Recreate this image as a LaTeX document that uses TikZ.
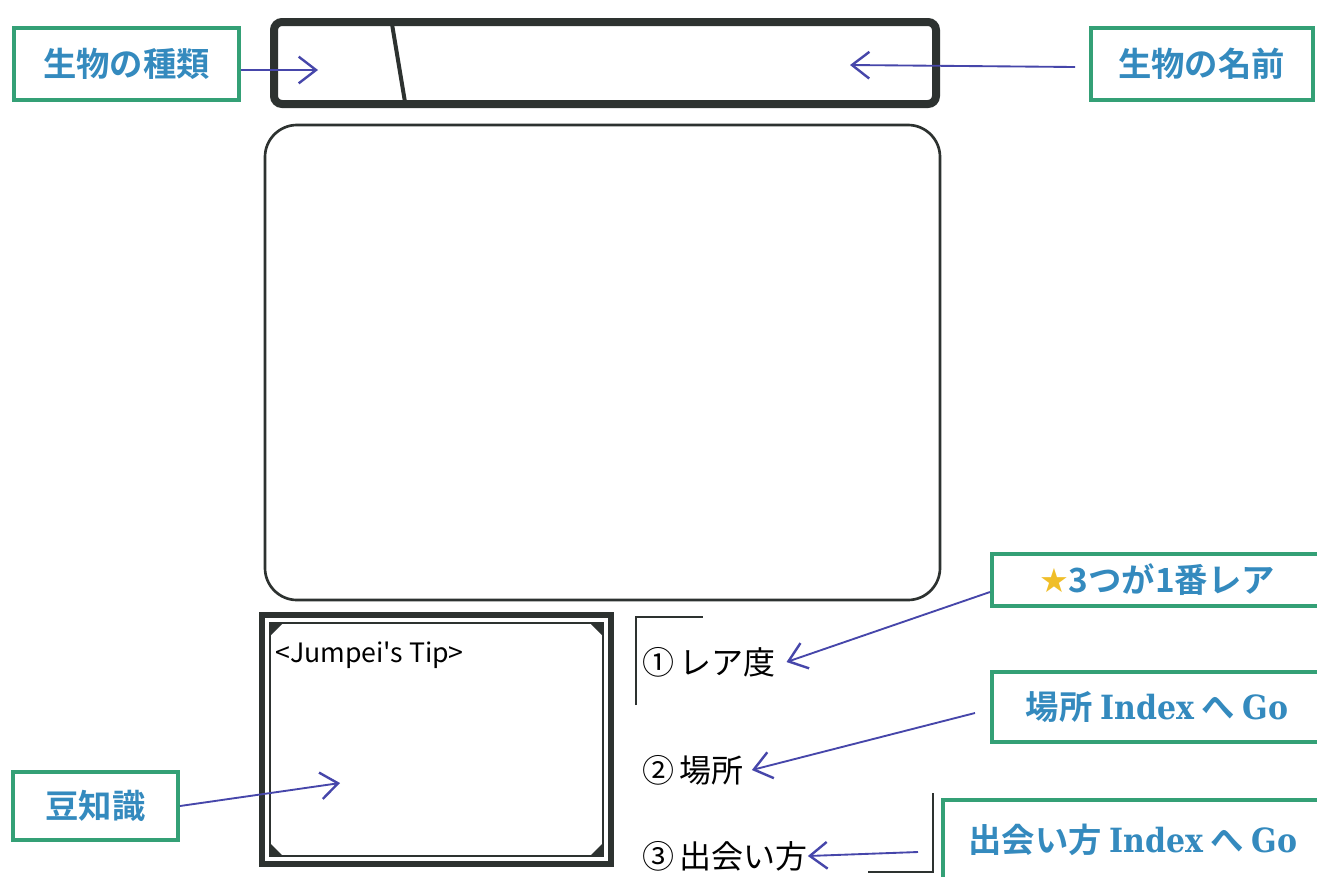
\documentclass[tikz,border=0pt]{standalone}
\usepackage{fontspec}
\newfontfamily\jpb{Noto Sans CJK JP}[BoldFont=* Bold]
\newfontfamily\jpl{Noto Sans CJK JP}
\newfontfamily\serifb{DejaVu Serif Condensed}
\newfontfamily\sym{DejaVu Sans}
\usetikzlibrary{arrows.meta}
\definecolor{boxgreen}{RGB}{52,160,118}
\definecolor{labelblue}{RGB}{52,138,190}
\definecolor{arrowblue}{RGB}{70,70,170}
\definecolor{frame}{RGB}{45,50,48}
\definecolor{stargold}{RGB}{240,190,40}
\tikzset{
  lbl/.style={draw=boxgreen,line width=3pt,fill=white,inner sep=0pt,text=labelblue,font=\jpb\bfseries\fontsize{25}{30}\selectfont},
  ptr/.style={draw=arrowblue,line width=1.4pt,-{Straight Barb[length=13pt,width=20pt,line width=1.8pt]}},
  hand/.style={font=\jpl\fontsize{24}{28}\selectfont,text=black,anchor=west,inner sep=0pt}
}
\begin{document}
\begin{tikzpicture}[x=0.75pt,y=-0.75pt]
\useasboundingbox (0,0) rectangle (1317,876);
\fill[white] (0,0) rectangle (1317,876);
% title bar
\draw[frame,line width=6pt,rounded corners=6pt] (274,22) rectangle (936,104);
\draw[frame,line width=3pt] (392,24) -- (405,102);
\coordinate (kind) at (318,70);
\coordinate (name) at (850,65);
% main picture area
\draw[frame,line width=2pt,rounded corners=24pt] (265,125) rectangle (940,600);
% tip box
\draw[frame,line width=4.5pt] (262,615) rectangle (611,864);
\draw[frame,line width=1.2pt] (270,623) rectangle (603,856);
\fill[frame] (271,624) -- (282,624) -- (271,635) -- cycle;
\fill[frame] (602,624) -- (591,624) -- (602,635) -- cycle;
\fill[frame] (271,855) -- (282,855) -- (271,844) -- cycle;
\fill[frame] (602,855) -- (591,855) -- (602,844) -- cycle;
\node[hand] (tip) at (275,655) {\fontsize{20}{24}\selectfont <Jumpei's Tip>};
\coordinate (mame) at (340,783);
% bracket lines
\draw[frame,line width=1.5pt] (636,705) -- (636,617) -- (703,617);
\draw[frame,line width=1.5pt] (933,793) -- (933,872) -- (868,872);
% handwritten list
\node[hand] (i1) at (642,662) {①\,レア度};
\node[hand] (i2) at (642,770) {②\,場所};
\node[hand] (i3) at (642,856) {③\,出会い方};
% labels
\node[lbl,minimum width=225pt*0.75,minimum height=72pt*0.75] (l1) at (126.5,64) {生物の種類};
\node[lbl,minimum width=222pt*0.75,minimum height=72pt*0.75] (l2) at (1201.5,64) {生物の名前};
\node[lbl,minimum width=330pt*0.75,minimum height=52pt*0.75] (l3) at (1157,580) {{\sym\color{stargold}★}3つが1番レア};
\node[lbl,minimum width=330pt*0.75,minimum height=70pt*0.75] (l4) at (1157,707) {場所 {\serifb\bfseries Index} へ {\serifb\bfseries Go}};
\node[lbl,minimum width=380pt*0.75,minimum height=80pt*0.75] (l5) at (1133,840) {出会い方 {\serifb\bfseries Index} へ {\serifb\bfseries Go}};
\node[lbl,minimum width=165pt*0.75,minimum height=68pt*0.75] (l6) at (95.5,806) {豆知識};
% arrows
\draw[ptr] (l1.east |- kind) -- (kind);
\draw[ptr] (1075,67) -- (name);
\draw[ptr] (l3.west) ++(0,12) -- ([xshift=8pt]i1.east);
\draw[ptr] (l4.west) ++(-15,6) -- ([xshift=6pt]i2.east);
\draw[ptr] (918,852) -- ([xshift=0pt]i3.east);
\draw[ptr] (l6.east) -- (mame);
\end{tikzpicture}
\end{document}
